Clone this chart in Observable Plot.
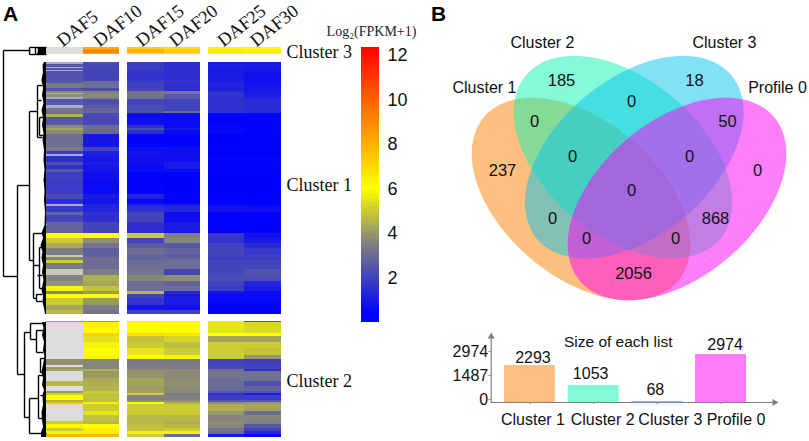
<!DOCTYPE html>
<html>
<head>
<meta charset="utf-8">
<script src="https://cdn.jsdelivr.net/npm/d3@7"></script>
<script src="https://cdn.jsdelivr.net/npm/@observablehq/plot@0.6"></script>
<style>
html,body{margin:0;padding:0;background:#fff;}
#page{position:relative;width:809px;height:441px;overflow:hidden;}
#page svg{position:absolute;overflow:visible;background:transparent;}
.tag{position:absolute;font:bold 21px "Liberation Sans",sans-serif;color:#000;line-height:1;}
</style>
</head>
<body>
<div id="page"></div>
<script>
// ---------- heatmap data: [genes in band, DAF5, DAF10, DAF15, DAF20, DAF25, DAF30] (null = no value, grey)
const days = ["DAF5","DAF10","DAF15","DAF20","DAF25","DAF30"];
const dayStart = [0,1,2.2,3.2,4.4,5.4];
const clusterNames = ["Cluster 3","Cluster 1","Cluster 2"];
const clusterSizes = [68,2293,1053];
const clusterGap = 65;
const cluster3Rows = [
 [18,null,8,7.2,6.8,6.2,6.1],
 [32,null,9,7.8,7.2,6.5,6.4],
 [18,null,8.2,7,6.8,6.2,6.1]
];
const cluster1Rows = [
 [18,null,2.2,1.8,1.5,1,1],[27,2.5,2.1,1.8,1.5,1.1,1],[9,null,2.1,1.8,1.5,1.1,1],[18,2.4,2.1,1.8,1.5,1,1],[9,null,2,1.7,1.5,1,1],
 [91,2.4,2,1.6,1.5,1,.8],[18,2.5,3,1.8,1.6,1.1,.8],[46,3.3,3,1.9,1.5,1.2,.9],[27,2.4,2.2,2,1.5,1.1,.9],
 [18,3.7,3.6,3.2,3.3,1.5,1],[9,null,3.6,3.2,3.3,1.6,1],[27,3.8,3.7,3.2,2.6,1.6,1.1],[18,null,3.5,3.1,2.5,1.5,1.1],
 [55,2.5,2.3,2,2,1.5,1.4],[27,null,2.6,2.2,2,1.5,1.4],[27,3.2,2.8,2.2,2,1.5,1.4],[27,3.2,2.9,2.4,3,1.6,1.4],[9,3,2.2,.8,.8,.5,.5],
 [27,4.4,2.2,.6,.6,.4,.4],[73,2.5,2.1,.7,.6,.4,.4],[27,3.7,3,1.5,.6,.5,.4],[18,4.2,3,2.2,1,.5,.4],[36,3.7,2.9,1.5,.6,.5,.4],
 [118,3,.9,.4,.4,.3,.3],[36,3.3,2,.7,.7,.3,.3],[27,1.8,1.1,.8,.7,.3,.3],[18,null,1.1,.8,.7,.3,.3],[55,1.5,.9,.7,.7,.4,.4],
 [27,2.3,1.1,.7,1,.4,.4],[36,1.5,.9,.6,1,.3,.3],[27,2.5,.9,.6,.6,.3,.3],[64,1.9,.7,.3,.3,.3,.3],[136,1.8,.6,.4,.3,.3,.3],
 [46,2.2,1,1.2,.4,.3,.3],[46,1.5,.8,.5,.3,.3,.3],[18,null,1.2,1.2,1,.6,.5],[55,1.7,1.2,1.5,1.3,.8,.7],[27,2.8,1.5,2,.6,.3,.3],
 [64,2,1.5,2,.7,.3,.3],[91,2.8,2,1.5,1,.3,.3],[46,6,6,5,3.5,1.7,.8],[46,5,3.8,2,3.6,1.6,1],[46,4.3,3.2,2.6,2.5,2,1.4],
 [64,3.4,2.7,3,2.8,2,1.7],[18,null,2.8,2.8,2.6,2,2],[27,3.5,3,2.8,2.8,1.8,1.8],[27,5,3,3,3,2,2],[55,3.4,3,3,3,2,2],
 [55,null,3.4,3.2,2,2,2.4],[55,3.6,4.4,3.6,3.8,2.2,2.2],[46,3.9,4.2,3,2.8,2,1.2],[46,5.8,4.8,3,3,1.8,1],[27,3.6,4,4.6,1.3,.8,.6],
 [36,6,6,2,1,.6,.6],[64,5,4,1.6,1,.5,.5],[46,4.2,3.4,.9,.8,.4,.4],[36,4.6,3.2,2,2,.4,.4]
];
const cluster2Rows = [
 [12,9,9,6.4,6.2,5.5,2.5],[46,null,6.3,6.1,6.05,5.5,5.2],[46,null,6.1,6.1,6,5.5,5.3],[27,null,7.2,6.8,6.7,6,6],
 [55,null,5.4,4.8,5.2,4.2,4.2],[55,null,5.8,5,4.7,5,5],[64,null,6,5.5,5,5,4.8],[36,null,6.3,6,5.8,5,4],
 [55,3.8,3.6,3.3,3.3,2,1.9],[18,null,3.6,3.4,3.4,2.2,2],[18,4,3.6,3.4,3.4,2.2,2],[18,4.2,4.5,3.7,3.7,3,1.5],[64,null,4,3.9,3.7,3.2,3.1],
 [27,null,4.3,4.2,3.7,3,3.1],[46,4.6,4.4,4.2,3.8,3,2.3],[46,null,4.5,4.1,3.7,2.9,2.8],[18,4,5,4.2,3.7,2.5,2.4],[18,5,4.8,5,3.3,1.5,1],
 [46,6,4.8,3.5,3.5,1.8,1.8],[18,4.5,4.8,3.8,3.8,2.5,2.5],[18,7.5,6.5,6,4.4,3.8,4],[64,null,5,5,5,4.4,4.2],[36,null,5.5,5,5,4,3],
 [55,null,4.8,4.6,4.6,3.6,3.6],[27,5,4.6,4.6,4.4,3.8,3.5],[36,6.2,6,4.8,4.6,3.6,2.5],[27,5,6.4,4.8,5,3.2,2],[27,5.8,6.4,5.8,5.8,3,1.4],[27,8,7.8,5,3,1,.5]
];
const clusterRows = [cluster3Rows,cluster1Rows,cluster2Rows];
const clusterLabelRank = [42,1250,3030];

// ---------- colour scale
const colorDomain = [0.35,3.5,6,12.36];
const colorRange = ["#0000ff","#808080","#ffff00","#ff0000"];
const colorTicks = [2,4,6,8,10,12];
const colorOpts = {type:"linear",domain:colorDomain,range:colorRange,interpolate:"rgb",clamp:true};

// ---------- dendrogram: [height1,row1,height2,row2]
const dendroSegments = [
 [3,50,30,50],[3,50,3,276],[3,276,17,276],[17,185,17,374],[17,185,29,185],[29,111,29,260],[29,111,37,111],
 [37,85,37,137],[37,85,42,85],[37,137,42,137],[39,117,39,135],[39,117,43,117],[39,135,43,135],[37,100,41,100],
 [29,260,33,260],[33,233,33,298],[33,233,42,233],[33,298,36,298],[36,294,36,301],[36,294,42,294],[36,301,42,301],
 [33,265,39,265],[39,247,39,288],[39,247,42,247],[39,288,42,288],[37,275,42,275],
 [17,374,24,374],[24,332,24,417],[24,332,30,332],[30,323,30,339],[30,323,43,323],[30,339,36,339],[36,330,36,352],[36,330,43,330],[36,352,43,352],
 [24,417,29,417],[29,398,29,433],[29,433,46,433],[29,398,38,398],[38,375,38,418],[38,375,43,375],[38,418,43,418],[40,358,40,372],[40,358,44,358],[40,372,44,372],[40,395,44,395],
 [29,47,29,54],[29,47,46,47],[29,54,46,54],[35,47,35,54]
];
const combRows = [
 [62,44],[65,42.5],[72,43],[80,41.5],[88,43],[95,42],[103,43.5],[110,41.5],[118,43],[125,42],[133,43.5],[140,42.5],[150,44],[160,43.5],[170,44.5],[180,43.5],[190,44.5],[200,44],[212,45],[225,44.5],[233,41.5],[238,43],[245,40.5],[252,42.5],[258,41.5],[265,43],[272,42],[280,43.5],[290,41.5],[296,43],[302,42.5],[308,44],[314,45]
];
const combRows2 = [
 [322,42],[328,43.5],[335,42],[342,44],[350,43],[356,44.5],[362,43.5],[372,41.5],[378,43],[385,42],[390,44],[395,42.5],[405,43],[412,41.5],[420,42],[427,43],[432,41],[437,41]
];
const combRows3 = [[47,37],[50,38],[55,37]];

// ---------- Venn
const vennSets = ["Cluster 1","Cluster 2","Cluster 3","Profile 0"];
const vennColors = ["#ff7f00","#0ef5b0","#05c3eb","#ff00f5"];
const vennCx = [580.5,622.5,633.8,676.5];
const vennCy = [198.5,156.7,156.7,198.5];
const vennA = [127,127,127,127];
const vennB = [78,78,78,78];
const vennTilt = [40.2,40.2,-40.2,-40.2];
const vennNameX = [484,542,724,777];
const vennNameY = [87,42,42,87];
const regionCounts = [237,185,18,0,0,0,50,0,0,0,0,868,0,0,2056];
const regionX = [502,561,694,757,534,631,727,572,689,631,552,715,586,675,633];
const regionY = [170,80,80,170,121,101,121,156,156,190,218,218,238,238,273];

// ---------- list sizes
const listSizes = [2293,1053,68,2974];
const listColors = ["#ffbf80","#84f9d6","#66d8ee","#ff7dfa"];
const listTicks = [0,1487,2974];

const page = document.getElementById("page");
function place(svg,left,top){svg.style.left=left+"px";svg.style.top=top+"px";page.appendChild(svg);return svg;}
const serif='"Liberation Serif",serif', sans='"Liberation Sans",sans-serif';

// ---------- heatmap
const cells=[]; let rank=0; const clusterTop=[];
clusterRows.forEach((rows,ci)=>{
  clusterTop.push(rank);
  const scale = clusterSizes[ci]/d3.sum(rows,r=>r[0]);
  let r0=rank;
  rows.forEach(r=>{
    const r1=r0+r[0]*scale;
    days.forEach((d,i)=>cells.push({day:i,value:r[i+1],y1:r0,y2:r1,cluster:ci}));
    r0=r1;
  });
  rank+=clusterSizes[ci]+clusterGap;
});
const totalRank=rank-clusterGap;
const heatX={domain:[0,6.4],range:[46,281],axis:null};
const heatY={domain:[0,totalRank],range:[47,437],axis:null};
const blankFill=c=>c.cluster===1?(c.y1<1690?"#a9a9d6":"#c9c9bb"):"#dcdcdc";
const heat=place(Plot.plot({
  width:420,height:441,margin:0,x:heatX,y:heatY,color:colorOpts,
  style:{background:"transparent"},
  marks:[
    Plot.rect(cells.filter(c=>c.value==null),{x1:c=>dayStart[c.day],x2:c=>dayStart[c.day]+1,y1:"y1",y2:"y2",fill:blankFill,shapeRendering:"crispEdges"}),
    Plot.rect(cells.filter(c=>c.value!=null),{x1:c=>dayStart[c.day],x2:c=>dayStart[c.day]+1,y1:"y1",y2:"y2",fill:"value",shapeRendering:"crispEdges"})
  ]
}),0,0);
heat.style.filter="blur(0.45px)";
const dayDx=[-2,-2,-4,-7,-3,-7];
place(Plot.plot({
  width:420,height:441,margin:0,x:heatX,y:heatY,
  style:{background:"transparent"},
  marks:[
    ...days.map((d,i)=>Plot.text([d],{x:()=>dayStart[i]+.5,y:()=>0,rotate:-38,textAnchor:"start",lineAnchor:"bottom",dx:dayDx[i],dy:0,fontFamily:serif,fontSize:18.5,fill:"#111"})),
    ...clusterNames.map((n,i)=>Plot.text([n],{x:()=>6.4,y:()=>clusterLabelRank[i],textAnchor:"start",dx:5,fontFamily:serif,fontSize:18,fill:"#111"}))
  ]
}),0,0);

// ---------- dendrogram
place(Plot.plot({
  width:47,height:441,margin:0,
  x:{domain:[0,46],range:[0,46],axis:null},
  y:{domain:[47,437],range:[47,437],axis:null},
  style:{background:"transparent"},
  marks:[
    Plot.link(dendroSegments,{x1:"0",y1:"1",x2:"2",y2:"3",stroke:"#000",strokeWidth:1.4}),
    Plot.areaX(combRows,{y:"0",x1:"1",x2:()=>46,fill:"#000"}),
    Plot.areaX(combRows2,{y:"0",x1:"1",x2:()=>46,fill:"#000"}),
    Plot.areaX(combRows3,{y:"0",x1:"1",x2:()=>46,fill:"#000"})
  ]
}),0,0);

// ---------- colour bar
const barSteps=d3.range(0,12.36,0.06);
place(Plot.plot({
  width:90,height:322,marginTop:47,marginBottom:0,marginLeft:21,marginRight:51,
  x:{domain:[0,1],axis:null},
  y:{domain:[0,12.36],range:[322,47]},
  color:colorOpts,
  style:{background:"transparent",overflow:"visible"},
  marks:[
    Plot.rect(barSteps,{x1:()=>0,x2:()=>1,y1:d=>d,y2:d=>d+0.06,fill:d=>d,shapeRendering:"crispEdges"}),
    Plot.axisY({anchor:"right",ticks:colorTicks,tickSize:0,tickPadding:8,label:null,fontSize:18,fontFamily:sans,fill:"#111"})
  ]
}),340,0);
place(Plot.plot({
  width:120,height:20,margin:0,x:{domain:[0,1],axis:null},y:{domain:[0,1],axis:null},
  style:{background:"transparent"},
  marks:[Plot.text(["Log₂(FPKM+1)"],{frameAnchor:"middle",fontFamily:serif,fontSize:14,fill:"#222"})]
}),311,21);

// ---------- Venn
const theta=d3.range(0,360,3);
function ellipsePts(i){
  const t=vennTilt[i]*Math.PI/180;
  return theta.map(a=>{const r=a*Math.PI/180,u=vennA[i]*Math.cos(r),v=vennB[i]*Math.sin(r);
    return {x:vennCx[i]+u*Math.cos(t)-v*Math.sin(t),y:vennCy[i]+u*Math.sin(t)+v*Math.cos(t)};});
}
place(Plot.plot({
  width:389,height:310,margin:0,
  x:{domain:[420,809],range:[0,389],axis:null},
  y:{domain:[0,310],range:[0,310],axis:null},
  style:{background:"transparent"},
  marks:[
    ...vennSets.map((s,i)=>Plot.line(ellipsePts(i),{x:"x",y:"y",curve:"linear-closed",fill:vennColors[i],fillOpacity:.5,stroke:"none"})),
    Plot.text(vennSets,{x:(d,i)=>vennNameX[i],y:(d,i)=>vennNameY[i],text:d=>d,fontFamily:sans,fontSize:16,fill:"#111"}),
    Plot.text(regionCounts,{x:(d,i)=>regionX[i],y:(d,i)=>regionY[i],text:d=>String(d),fontFamily:sans,fontSize:16.5,fill:"#111"})
  ]
}),420,0);

// ---------- list-size bars
const labelDx=[3,9,13,15], valueDx=[3,-3,-2,4], valueDy=[-8,-12,-12,-10];
const axisGrey="#808080";
place(Plot.plot({
  width:379,height:116,marginTop:13,marginBottom:39,marginLeft:60.7,marginRight:37,
  x:{domain:vennSets,range:[74,316],paddingInner:0.2,paddingOuter:0,round:false,axis:null},
  y:{domain:[0,2974],range:[77,29],axis:null},
  style:{background:"transparent",overflow:"visible"},
  marks:[
    Plot.barY(listSizes,{x:(d,i)=>vennSets[i],y:d=>d,fill:(d,i)=>listColors[i]}),
    Plot.frame({anchor:"left",stroke:axisGrey,strokeWidth:1.2}),
    Plot.frame({anchor:"bottom",stroke:axisGrey,strokeWidth:1.2}),
    Plot.dot([0],{frameAnchor:"top-left",symbol:"triangle",r:2.6,fill:axisGrey,dy:-2}),
    Plot.dot([0],{frameAnchor:"bottom-right",symbol:"triangle",rotate:90,r:2.6,fill:axisGrey,dx:2}),
    Plot.axisY({ticks:listTicks,tickSize:2,tickPadding:1,dy:-3,label:null,tickFormat:d=>String(d),fontSize:16,fontFamily:sans,fill:"#111",stroke:axisGrey}),
    Plot.axisX({tickSize:2,tickFormat:()=>"",label:null,stroke:axisGrey}),
    ...vennSets.map((s,i)=>Plot.text([s],{x:()=>s,y:()=>0,dx:labelDx[i],dy:17,fontFamily:sans,fontSize:16,fill:"#111"})),
    ...listSizes.map((v,i)=>Plot.text([v],{x:()=>vennSets[i],y:()=>v,text:d=>String(d),dx:valueDx[i],dy:valueDy[i],fontFamily:sans,fontSize:16,fill:"#111"})),
    Plot.text(["Size of each list"],{frameAnchor:"top-left",dx:127,dy:-3,textAnchor:"middle",fontFamily:sans,fontSize:15.5,fill:"#111"})
  ]
}),430,325);

// ---------- panel tags
[["A",3,3],["B",431,3]].forEach(([t,l,tp])=>{
  const d=document.createElement("div");d.className="tag";d.textContent=t;d.style.left=l+"px";d.style.top=tp+"px";page.appendChild(d);
});
</script>
</body>
</html>
